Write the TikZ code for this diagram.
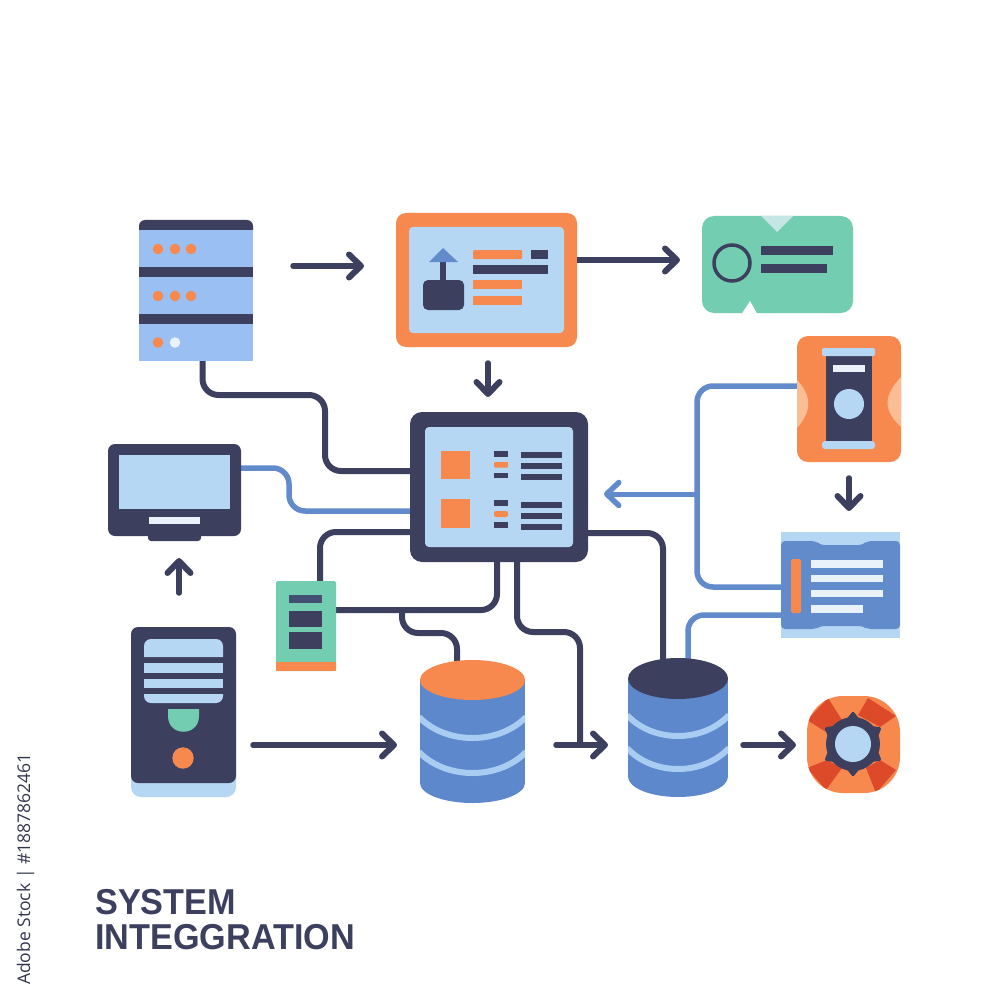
\documentclass[tikz,border=0pt]{standalone}
\usepackage{fontspec}
\setmainfont{Liberation Sans}
\newfontfamily\titlefont[FakeStretch=0.95]{Liberation Sans}
\newfontfamily\sidefont{Open Sans}
\usetikzlibrary{arrows.meta,backgrounds,calc}
\definecolor{ink}{HTML}{3C405E}
\definecolor{org}{HTML}{F7894E}
\definecolor{sky}{HTML}{B5D7F4}
\definecolor{srvblue}{HTML}{9ABFF2}
\definecolor{mint}{HTML}{72CDB1}
\definecolor{wireblue}{HTML}{628BCC}
\definecolor{dbblue}{HTML}{5E88CC}
\definecolor{band}{HTML}{A9CCF2}
\definecolor{pale}{HTML}{E9F1FA}
\definecolor{peach}{HTML}{FBBE94}
\definecolor{red}{HTML}{DD4A2A}
\tikzset{
  devbox/.style={inner sep=0pt,outer sep=0pt,draw=none},
  wire/.style={draw=ink,line width=6pt,rounded corners=16pt},
  bwire/.style={draw=wireblue,line width=5.5pt,rounded corners=16pt},
  arrowline/.style={draw=ink,line width=5.5pt,line cap=round,
    -{Straight Barb[length=12pt,width=23pt,round,line width=6pt]}},
  barrowline/.style={draw=wireblue,line width=5pt,line cap=round,
    -{Straight Barb[length=12pt,width=23pt,round,line width=5.5pt]}}
}
% name, x1, y1, x2, y2, options
\newcommand\dev[6]{\node[devbox,minimum width={#4-#2},minimum height={#5-#3},#6] (#1) at ({(#2+#4)/2},{(#3+#5)/2}) {};}
\newcommand\bx[5]{\fill[#5] (#1,#2) rectangle (#3,#4);}
% x1, x2, y of top-ellipse centre, ry, y of bottom-ellipse centre, top colour, band1 y, band2 y
\newcommand\cyl[8]{%
  \begin{scope}
    \clip (#1,#3) rectangle (#2,#5+#4) ;
    \fill[dbblue] (#1,#3) rectangle (#2,#5);
    \fill[dbblue] ({(#1+#2)/2},#5) ellipse ({(#2-#1)/2} and #4);
    \draw[band,line width=6pt] (#1-1,#7) .. controls ({#1+0.25*(#2-#1)},#7+28) and ({#1+0.75*(#2-#1)},#7+28) .. (#2+1,#7);
    \draw[band,line width=6pt] (#1-1,#8) .. controls ({#1+0.25*(#2-#1)},#8+28) and ({#1+0.75*(#2-#1)},#8+28) .. (#2+1,#8);
  \end{scope}
  \fill[#6] ({(#1+#2)/2},#3) ellipse ({(#2-#1)/2} and #4);}
\begin{document}
\begin{tikzpicture}[x=1pt,y=-1pt]
\useasboundingbox (0,0) rectangle (1000,1000);

% ---------- device nodes
\dev{srv}{139}{220}{253}{361}{}
\dev{panel}{396}{213}{577}{347}{fill=org,rounded corners=10pt}
\dev{card}{702}{216}{853}{313}{fill=mint,rounded corners=12pt}
\dev{tower}{797}{336}{901}{462}{fill=org,rounded corners=11pt}
\dev{doc}{781}{532}{900}{638}{fill=sky}
\dev{main}{410}{412}{588}{562}{fill=ink,rounded corners=12pt}
\dev{mon}{108}{444}{241}{536}{fill=ink,rounded corners=7pt}
\dev{tag}{276}{581}{336}{671}{fill=mint,rounded corners=1.5pt}
\dev{pc}{131}{627}{236}{797}{fill=sky,rounded corners=10pt}
\dev{dbone}{420}{660}{525}{803}{}
\dev{dbtwo}{628}{658}{728}{797}{}
\dev{gear}{807}{696}{900}{793}{fill=org,rounded corners=36pt}

\coordinate (jone) at (402,610);
\coordinate (jtwo) at (580,745);
\coordinate (jthree) at (556,745);
\coordinate (jfour) at (697,494);

% ---------- connectors
\begin{scope}[on background layer]
  \fill[white] (0,0) rectangle (1000,1000);
  \draw[wire] ([xshift=6.5pt]srv.south) -- (202.5,395) -- (325,395) -- (325,471) -- ([yshift=16pt]main.west);
  \draw[bwire] ([yshift=22pt]mon.east) -- (289,468) -- (289,511) -- ([yshift=-24pt]main.west);
  \draw[wire] ([yshift=-45pt]main.west) -- (320,532) -- ([xshift=14pt]tag.north);
  \draw[wire] ([yshift=16pt]tag.east) -- (497,610) -- ([xshift=-2pt]main.south);
  \draw[wire] (jone) -- (402,633) -- (457,633) -- ([xshift=-15.5pt,yshift=-6pt]dbone.north);
  \draw[wire] ([xshift=18pt]main.south) -- (517,632) -- (580,632) -- (jtwo);
  \draw[wire] ([yshift=-46pt]main.east) -- (663,533) -- ([xshift=-15pt,yshift=-6pt]dbtwo.north);
  \draw[bwire] ([yshift=13pt]tower.west) -- (697,386) -- (697,587) -- ([yshift=-2pt]doc.west);
  \draw[bwire] ([yshift=-30pt]doc.west) -- (688,615) -- ([xshift=10pt,yshift=-6pt]dbtwo.north);
\end{scope}
\draw[barrowline] (jfour) -- ([xshift=16pt,yshift=-7pt]main.east);
\draw[arrowline] ([shift={(40pt,24.5pt)}]srv.east) -- ([shift={(-32pt,14pt)}]panel.west);
\draw[arrowline,line cap=butt] ([yshift=20pt]panel.east) -- ([shift={(-22pt,4.5pt)}]card.west);
\draw[arrowline] ([shift={(1.5pt,-16pt)}]panel.south) -- ([shift={(-11pt,15pt)}]main.north);
\draw[arrowline] ([yshift=-16pt]tower.south) -- ([shift={(8.5pt,21pt)}]doc.north);
\draw[arrowline] ([shift={(-4.5pt,34pt)}]pc.north) -- ([shift={(4.5pt,-22pt)}]mon.south);
\draw[arrowline] ([shift={(17pt,-33pt)}]pc.east) -- ([shift={(-23pt,-13.5pt)}]dbone.west);
\draw[arrowline] (jthree) -- ([shift={(-20pt,-17.5pt)}]dbtwo.west);
\draw[arrowline] ([shift={(15pt,-17.5pt)}]dbtwo.east) -- ([shift={(-11pt,-0.5pt)}]gear.west);

% ---------- server
\bx{139}{230}{253}{361}{srvblue}
\fill[ink] (139,230) [rounded corners=6pt] -- (139,220) -- (253,220) [sharp corners] -- (253,230) -- cycle;
\bx{139}{267}{253}{277}{ink}
\bx{139}{314}{253}{324}{ink}
\foreach \yy in {249,296}{\foreach \xx in {158,175,191}{\fill[org] (\xx,\yy) circle (5.3pt);}}
\fill[org] (158,342.5) circle (5.3pt);
\fill[pale] (175,342.5) circle (5.3pt);

% ---------- panel
\fill[sky,rounded corners=4pt] (409,227) rectangle (564,333);
\fill[ink,rounded corners=5pt] (423,280) rectangle (464,310);
\bx{440}{262}{446}{281}{ink}
\fill[wireblue] (443,248) -- (429,262) -- (458,262) -- cycle;
\fill[org,rounded corners=1pt] (473,250) rectangle (522,259);
\bx{531}{250}{548}{259}{ink}
\bx{473}{265}{548}{274}{ink}
\bx{473}{280}{522}{289}{org}
\bx{473}{296}{522}{305}{org}

% ---------- card
\fill[pale!70!mint] (761,216) -- (777,232) -- (793,216) -- cycle;
\fill[white] (742,313.5) -- (750,301) -- (757,313.5) -- cycle;
\draw[ink,line width=3.5pt] (732,263) circle (18pt);
\bx{761}{246}{833}{255}{ink}
\bx{761}{264}{827}{273}{ink}

% ---------- tower
\fill[peach] (797,380) .. controls (812,396) and (812,411) .. (797,428) -- cycle;
\fill[peach] (901,377) .. controls (883,396) and (883,410) .. (901,427) -- cycle;
\bx{826}{353}{872}{443}{ink}
\fill[sky!75!srvblue!90!white,rounded corners=2pt] (822,348) rectangle (875,356);
\fill[sky,rounded corners=3pt] (822,441) rectangle (875,449);
\bx{833}{365}{865}{372}{pale}
\fill[sky] (849,404) circle (15pt);

% ---------- document
\fill[wireblue,rounded corners=4pt] (781,541) -- (816,541) -- (820,545) -- (863,545) -- (867,541) -- (900,541) -- (900,629) -- (867,629) -- (863,626) -- (820,626) -- (816,629) -- (781,629) -- cycle;
\fill[org,rounded corners=1.5pt] (791,559) rectangle (801,613);
\bx{811}{560}{883}{568}{pale}
\bx{811}{575}{883}{582}{pale}
\bx{811}{590}{883}{597}{pale}
\bx{811}{605}{863}{613}{pale}

% ---------- main console
\fill[sky,rounded corners=4pt] (425,427) rectangle (573,547);
\bx{441}{451}{470}{479}{org}
\bx{441}{499}{470}{528}{org}
\bx{494}{451}{508}{456.5}{ink}
\fill[org,rounded corners=1pt] (494,462) rectangle (508,467.5);
\bx{494}{472.5}{508}{478}{ink}
\bx{494}{500}{508}{505.5}{ink}
\fill[org,rounded corners=2pt] (494,511) rectangle (508,517);
\bx{494}{522}{508}{527.5}{ink}
\foreach \yy in {452,463,474,502,513,524}{\bx{521}{\yy}{562}{\yy+5.5}{ink}}

% ---------- monitor
\bx{119}{455}{230}{509}{sky}
\bx{149}{517}{200}{524}{pale}
\fill[ink,rounded corners=3pt] (148,530) rectangle (201,541);

% ---------- small tag
\fill[org] (276,662) rectangle (336,671);
\bx{289}{595}{322}{603}{ink!80!wireblue}
\bx{289}{611}{322}{627}{ink}
\bx{289}{632}{322}{649}{ink}

% ---------- computer
\fill[ink,rounded corners=7pt] (131,627) rectangle (236,783);
\fill[sky] (144,657) [rounded corners=7pt] -- (144,639) -- (223,639) [sharp corners] -- (223,657) -- cycle;
\bx{144}{663}{223}{673}{sky}
\bx{144}{679}{223}{688}{sky}
\fill[sky] (144,694) -- (223,694) [rounded corners=7pt] -- (223,703) -- (144,703) [sharp corners] -- cycle;
\fill[mint] (168,709) -- (199,709) -- (199,716) .. controls (199,737) and (168,737) .. (168,716) -- cycle;
\fill[org] (183,758) circle (10.7pt);

% ---------- databases
\cyl{420}{525}{680}{20}{783}{org}{717}{752}
\cyl{628}{728}{678.5}{20.5}{776.5}{ink}{715}{748}

% ---------- gear badge
\begin{scope}
  \clip[rounded corners=36pt] (807,696) rectangle (900,793);
  \fill[red] (807,720) -- (828,698) -- (842,720) -- (826,732) -- cycle;
  \fill[red] (868,698) -- (896,716) -- (880,727) -- (858,715) -- cycle;
  \fill[red] (807,768) -- (827,760) -- (842,768) -- (826,790) -- cycle;
  \fill[red] (866,768) -- (880,760) -- (896,770) -- (876,793) -- cycle;
\end{scope}
\foreach \aa in {90,30,-30,-90,-150,150}{
  \fill[ink,rounded corners=1.5pt] ($(853,744)+(\aa:33)$) -- ($(853,744)+(\aa+17:25)$) -- ($(853,744)+(\aa-17:25)$) -- cycle;
}
\fill[ink] (853,744) circle (27pt);
\fill[sky] (853,744) circle (18pt);

% ---------- text
\node[inner sep=0pt,anchor=base west,text=ink,font=\titlefont\bfseries\fontsize{36}{36}\selectfont] (tone) at (95,914) {SYSTEM};
\node[inner sep=0pt,anchor=base west,text=ink,font=\titlefont\bfseries\fontsize{36}{36}\selectfont] (ttwo) at (95,949) {INTEGGRATION};
\node[inner sep=0pt,anchor=base west,rotate=90,text=ink!85!black,font=\sidefont\fontsize{17.5}{18}\selectfont] (side) at (30,985) {Adobe Stock | \#1887862461};
\end{tikzpicture}
\end{document}
